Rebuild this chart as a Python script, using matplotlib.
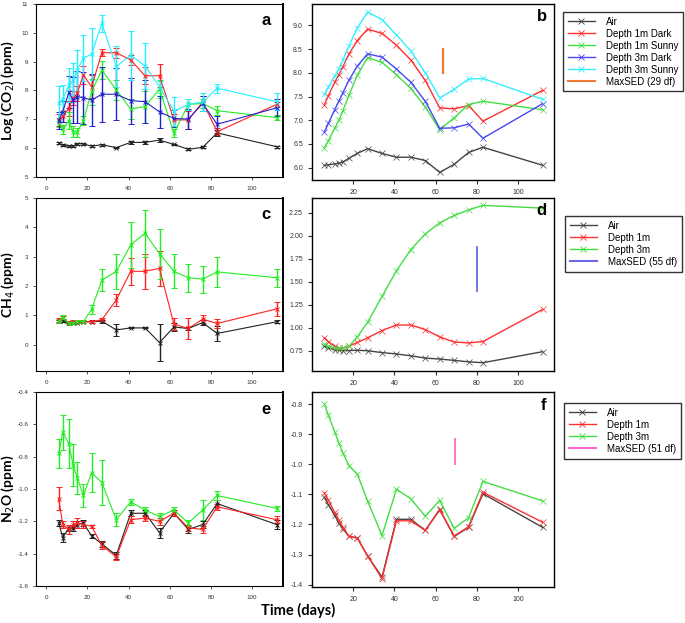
import numpy as np
import matplotlib.pyplot as plt
from matplotlib.lines import Line2D

plt.rcParams['font.family'] = ['Liberation Sans', 'DejaVu Sans']

days = [6, 8, 11, 13, 15, 18, 22, 27, 34, 41, 48, 55, 62, 69, 76, 83, 112]

# (a) log CO2 raw means and errors
co2_air = [6.17, 6.1, 6.07, 6.07, 6.15, 6.15, 6.07, 6.12, 6.02, 6.2, 6.2, 6.28, 6.13, 5.96, 6.03, 6.53, 6.05]
co2_air_err = [0.04, 0.03, 0.03, 0.03, 0.04, 0.04, 0.03, 0.03, 0.03, 0.06, 0.06, 0.07, 0.03, 0.03, 0.03, 0.1, 0.03]
co2_1d = [6.98, 7.1, 7.38, 7.73, 7.9, 8.54, 8.13, 9.31, 9.31, 9.06, 8.51, 8.51, 6.98, 6.98, 7.6, 6.57, 7.52]
co2_1d_err = [0.2, 0.2, 0.25, 0.25, 0.25, 0.3, 0.4, 0.12, 0.18, 0.18, 0.3, 0.4, 0.2, 0.3, 0.2, 0.12, 0.08]
co2_1s = [6.88, 6.65, 6.95, 6.57, 6.55, 6.95, 7.96, 8.71, 8.02, 7.36, 7.44, 8.05, 6.52, 7.52, 7.55, 7.3, 7.06]
co2_1s_err = [0.15, 0.15, 0.3, 0.2, 0.15, 0.15, 0.45, 0.3, 0.35, 0.35, 0.55, 0.3, 0.15, 0.2, 0.15, 0.15, 0.1]
co2_3d = [6.95, 7.27, 7.94, 7.67, 7.79, 7.75, 7.67, 7.87, 7.87, 7.65, 7.61, 7.26, 7.03, 7.01, 7.55, 6.83, 7.4]
co2_3d_err = [0.3, 0.35, 0.55, 0.8, 0.9, 0.9, 0.9, 0.95, 0.9, 0.8, 0.75, 0.55, 0.3, 0.35, 0.25, 0.3, 0.3]
co2_3s = [7.55, 7.7, 8.19, 8.35, 8.7, 9.12, 9.26, 10.33, 8.83, 9.23, 8.85, 8.13, 7.28, 7.52, 7.6, 8.08, 7.61]
co2_3s_err = [0.6, 0.5, 0.6, 0.6, 0.7, 0.8, 0.9, 0.3, 0.7, 0.85, 0.8, 0.2, 0.5, 0.2, 0.3, 0.15, 0.3]

# (b) fitted CO2
fit_co2_air = [6.05, 6.06, 6.08, 6.09, 6.12, 6.2, 6.3, 6.4, 6.3, 6.22, 6.22, 6.15, 5.9, 6.07, 6.32, 6.43, 6.05]
fit_co2_1d = [7.33, 7.52, 7.8, 7.96, 8.13, 8.4, 8.68, 8.92, 8.83, 8.58, 8.27, 7.84, 7.26, 7.24, 7.31, 6.98, 7.63]
fit_co2_1s = [6.42, 6.57, 6.83, 7.0, 7.2, 7.53, 7.95, 8.32, 8.22, 7.96, 7.67, 7.28, 6.8, 7.05, 7.33, 7.4, 7.22]
fit_co2_3d = [6.75, 6.94, 7.22, 7.4, 7.58, 7.85, 8.14, 8.4, 8.33, 8.08, 7.8, 7.4, 6.83, 6.84, 6.92, 6.62, 7.35]
fit_co2_3s = [7.55, 7.7, 7.93, 8.08, 8.27, 8.57, 8.95, 9.28, 9.12, 8.8, 8.46, 8.0, 7.47, 7.65, 7.87, 7.88, 7.44]
sed_co2 = (63.5, 8.0, 8.5)

# (c) CH4 raw
ch4_air = [0.8, 0.82, 0.75, 0.75, 0.75, 0.78, 0.78, 0.8, 0.5, 0.57, 0.57, 0.07, 0.6, 0.55, 0.75, 0.38, 0.78]
ch4_air_err = [0.05, 0.05, 0.03, 0.03, 0.03, 0.03, 0.03, 0.05, 0.2, 0.02, 0.02, 0.62, 0.15, 0.05, 0.08, 0.25, 0.05]
ch4_1m = [0.85, 0.9, 0.75, 0.78, 0.77, 0.78, 0.78, 0.85, 1.52, 2.5, 2.5, 2.6, 0.7, 0.55, 0.87, 0.72, 1.22]
ch4_1m_err = [0.07, 0.07, 0.05, 0.05, 0.05, 0.05, 0.05, 0.05, 0.22, 0.45, 0.6, 0.6, 0.2, 0.35, 0.15, 0.15, 0.25]
ch4_3m = [0.8, 0.92, 0.72, 0.75, 0.78, 0.78, 1.2, 2.2, 2.5, 3.4, 3.8, 3.1, 2.5, 2.28, 2.23, 2.48, 2.28]
ch4_3m_err = [0.07, 0.08, 0.05, 0.05, 0.05, 0.05, 0.15, 0.38, 0.6, 0.78, 0.8, 0.85, 0.58, 0.48, 0.46, 0.5, 0.3]

# (d) fitted CH4
fit_ch4_air = [0.8, 0.78, 0.76, 0.755, 0.752, 0.752, 0.755, 0.75, 0.73, 0.715, 0.695, 0.67, 0.66, 0.645, 0.63, 0.62, 0.74]
fit_ch4_1m = [0.89, 0.85, 0.8, 0.78, 0.78, 0.8, 0.84, 0.89, 0.97, 1.03, 1.03, 0.98, 0.9, 0.845, 0.835, 0.85, 1.2]
fit_ch4_3m = [0.82, 0.8, 0.78, 0.775, 0.78, 0.8, 0.9, 1.06, 1.34, 1.62, 1.85, 2.02, 2.14, 2.22, 2.28, 2.33, 2.30]
sed_ch4 = (80.2, 1.40, 1.88)

# (e) N2O raw
n2o_air = [-1.21, -1.3, -1.24, -1.24, -1.22, -1.21, -1.29, -1.34, -1.41, -1.15, -1.15, -1.27, -1.15, -1.25, -1.22, -1.09, -1.22]
n2o_air_err = [0.02, 0.03, 0.02, 0.02, 0.02, 0.02, 0.01, 0.02, 0.02, 0.02, 0.02, 0.03, 0.02, 0.02, 0.02, 0.02, 0.03]
n2o_1m = [-1.06, -1.22, -1.25, -1.22, -1.21, -1.22, -1.23, -1.35, -1.42, -1.19, -1.18, -1.2, -1.15, -1.24, -1.25, -1.11, -1.19]
n2o_1m_err = [0.07, 0.02, 0.03, 0.02, 0.03, 0.02, 0.01, 0.02, 0.02, 0.02, 0.02, 0.02, 0.02, 0.02, 0.02, 0.02, 0.02]
n2o_3m = [-0.78, -0.65, -0.72, -0.85, -0.93, -1.04, -0.9, -0.96, -1.19, -1.08, -1.13, -1.17, -1.13, -1.21, -1.13, -1.04, -1.12]
n2o_3m_err = [0.09, 0.11, 0.15, 0.13, 0.1, 0.07, 0.12, 0.14, 0.04, 0.02, 0.02, 0.02, 0.02, 0.02, 0.06, 0.03, 0.015]

# (f) fitted N2O
fit_n2o_air = [-1.11, -1.135, -1.17, -1.195, -1.215, -1.24, -1.245, -1.305, -1.375, -1.183, -1.183, -1.22, -1.15, -1.24, -1.21, -1.098, -1.21]
fit_n2o_1m = [-1.095, -1.12, -1.16, -1.185, -1.21, -1.24, -1.245, -1.305, -1.38, -1.188, -1.188, -1.22, -1.152, -1.238, -1.208, -1.093, -1.193]
fit_n2o_3m = [-0.8, -0.838, -0.892, -0.928, -0.963, -1.005, -1.033, -1.122, -1.237, -1.083, -1.115, -1.173, -1.12, -1.213, -1.178, -1.057, -1.122]
sed_n2o = (69.3, -1.0, -0.915)

W, H = 685, 623
fig = plt.figure(figsize=(W / 100, H / 100), dpi=100)


def box(l, t, r, b):
    return fig.add_axes([l / W, 1 - b / H, (r - l) / W, (b - t) / H])


ax_a = box(36, 4, 283, 177)
ax_b = box(312, 4, 554, 180)
ax_c = box(36, 198, 283, 371)
ax_d = box(312, 198, 554, 371)
ax_e = box(36, 392, 283, 586)
ax_f = box(312, 392, 554, 587)

raw_c = {'air': '#222222', 'red': '#ff2020', 'green': '#22ee22', 'blue': '#2222cc', 'cyan': '#22f0ff'}
fit_c = {'air': '#444444', 'red': '#ff3030', 'green': '#44dd44', 'blue': '#4848ee', 'cyan': '#33eeff'}


def raw(ax, y, err, col):
    ax.errorbar(days, y, yerr=err, color=col, marker='x', ms=2.5, mew=0.7, lw=0.8,
                elinewidth=1.0, capsize=2, capthick=1.0)


def fit(ax, y, col):
    ax.plot(days, y, color=col, marker='x', ms=4, mew=0.5, lw=1.0)


def ylab(ax, text):
    p = ax.get_position()
    fig.text(8 / W, (p.y0 + p.y1) / 2, text, rotation=90, ha='center', va='center',
             fontsize=10, fontweight='bold', family='Lato')


def style_left(ax, ylim, yticks, letter, fmt='%g'):
    ax.set_xlim(-5, 115)
    ax.set_ylim(*ylim)
    ax.set_xticks([0, 20, 40, 60, 80, 100])
    ax.set_yticks(yticks)
    ax.yaxis.set_major_formatter(plt.FormatStrFormatter(fmt))
    ax.tick_params(labelsize=4.5, length=2.5, width=0.6, colors='#333333', pad=3)
    ax.tick_params(axis='x', pad=4)
    for s in ax.spines.values():
        s.set_linewidth(0.8)
    ax.spines['right'].set_linewidth(1.4)
    ax.text(0.95, 0.95, letter, transform=ax.transAxes, ha='right', va='top',
            fontsize=12, fontweight='bold')


def style_right(ax, ylim, yticks, fmt, letter):
    ax.set_xlim(0, 117.5)
    ax.set_ylim(*ylim)
    ax.set_xticks([20, 40, 60, 80, 100])
    ax.set_yticks(yticks)
    ax.yaxis.set_major_formatter(plt.FormatStrFormatter(fmt))
    ax.tick_params(labelsize=5, length=3, width=0.8, colors='#333333')
    for s in ax.spines.values():
        s.set_linewidth(1.0)
    ax.text(0.97, 0.97, letter, transform=ax.transAxes, ha='right', va='top',
            fontsize=12, fontweight='bold')


def legend(labels, cols, sed_col, sed_label, x, y):
    hs = [Line2D([], [], color=c, marker='x', ms=4, mew=0.6, lw=1.0) for c in cols]
    hs.append(Line2D([], [], color=sed_col, lw=1.5))
    fig.legend(hs, labels + [sed_label], loc='upper left', bbox_to_anchor=(x / W, 1 - y / H),
               fontsize=7, frameon=True, fancybox=False, edgecolor='#333333',
               framealpha=1, labelspacing=0.2, handlelength=2.8, handletextpad=1.1,
               borderpad=0.5, borderaxespad=0)


# a
for y, e, k in [(co2_air, co2_air_err, 'air'), (co2_1d, co2_1d_err, 'red'), (co2_1s, co2_1s_err, 'green'),
                (co2_3d, co2_3d_err, 'blue'), (co2_3s, co2_3s_err, 'cyan')]:
    raw(ax_a, y, e, raw_c[k])
style_left(ax_a, (5, 11), range(5, 12), 'a')
ylab(ax_a, 'Log (CO$_2$) (ppm)')

# b
for y, k in [(fit_co2_air, 'air'), (fit_co2_1d, 'red'), (fit_co2_1s, 'green'),
             (fit_co2_3d, 'blue'), (fit_co2_3s, 'cyan')]:
    fit(ax_b, y, fit_c[k])
ax_b.plot([sed_co2[0], sed_co2[0]], sed_co2[1:], color='#f07838', lw=1.6)
style_right(ax_b, (5.74, 9.45), np.arange(6.0, 9.01, 0.5), '%.1f', 'b')
legend(['Air', 'Depth 1m Dark', 'Depth 1m Sunny', 'Depth 3m Dark', 'Depth 3m Sunny'],
       [fit_c[k] for k in ['air', 'red', 'green', 'blue', 'cyan']], '#f07838', 'MaxSED (29 df)', 563, 12)

# c
for y, e, k in [(ch4_air, ch4_air_err, 'air'), (ch4_1m, ch4_1m_err, 'red'), (ch4_3m, ch4_3m_err, 'green')]:
    raw(ax_c, y, e, raw_c[k])
style_left(ax_c, (-0.9, 5), range(0, 6), 'c')
ylab(ax_c, 'CH$_4$ (ppm)')

# d
for y, k in [(fit_ch4_air, 'air'), (fit_ch4_1m, 'red'), (fit_ch4_3m, 'green')]:
    fit(ax_d, y, fit_c[k])
ax_d.plot([sed_ch4[0], sed_ch4[0]], sed_ch4[1:], color='#6a6ae8', lw=1.3)
style_right(ax_d, (0.53, 2.41), np.arange(0.75, 2.26, 0.25), '%.2f', 'd')
legend(['Air', 'Depth 1m', 'Depth 3m'], [fit_c[k] for k in ['air', 'red', 'green']],
       '#6a6ae8', 'MaxSED (55 df)', 565, 216)

# e
for y, e, k in [(n2o_air, n2o_air_err, 'air'), (n2o_1m, n2o_1m_err, 'red'), (n2o_3m, n2o_3m_err, 'green')]:
    raw(ax_e, y, e, raw_c[k])
style_left(ax_e, (-1.6, -0.41), np.arange(-1.6, -0.39, 0.2), 'e', '%.1f')
ylab(ax_e, 'N$_2$O (ppm)')

# f
for y, k in [(fit_n2o_air, 'air'), (fit_n2o_1m, 'red'), (fit_n2o_3m, 'green')]:
    fit(ax_f, y, fit_c[k])
ax_f.plot([sed_n2o[0], sed_n2o[0]], sed_n2o[1:], color='#ff66cc', lw=1.3)
style_right(ax_f, (-1.408, -0.76), np.arange(-1.4, -0.79, 0.1), '%.1f', 'f')
legend(['Air', 'Depth 1m', 'Depth 3m'], [fit_c[k] for k in ['air', 'red', 'green']],
       '#ff66cc', 'MaxSED (51 df)', 564, 403)

fig.text(298 / W, 1 - 610 / H, 'Time (days)', ha='center', va='center', fontsize=10.5,
         fontweight='bold', family='Lato')

fig.savefig('out.png', dpi=100)
